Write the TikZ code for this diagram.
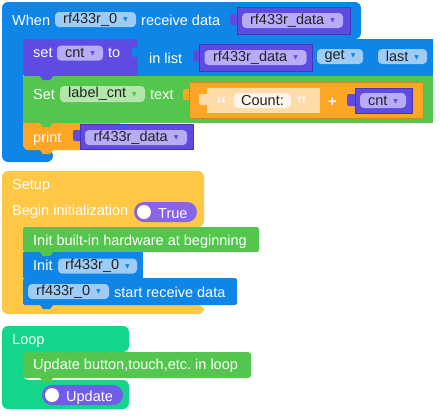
\documentclass[tikz,border=0pt]{standalone}
\usepackage{fontspec}
\setmainfont{Liberation Sans}
\newfontfamily\symfnt{DejaVu Sans}
\usetikzlibrary{positioning}
\frenchspacing

\definecolor{evblue}{RGB}{16,133,232}
\definecolor{fldblue}{RGB}{158,204,246}
\definecolor{varpurple}{RGB}{94,75,225}
\definecolor{varedge}{RGB}{70,52,185}
\definecolor{fldpurple}{RGB}{183,172,245}
\definecolor{stgreen}{RGB}{84,198,78}
\definecolor{fldgreen}{RGB}{178,230,170}
\definecolor{joinorange}{RGB}{253,165,37}
\definecolor{joinedge}{RGB}{215,135,25}
\definecolor{strorange}{RGB}{255,219,170}
\definecolor{cream}{RGB}{255,245,234}
\definecolor{setupyellow}{RGB}{254,199,70}
\definecolor{loopteal}{RGB}{20,214,139}
\definecolor{tglpurple}{RGB}{138,100,232}
\definecolor{tglviolet}{RGB}{112,92,232}
\definecolor{fldtext}{RGB}{35,35,35}

\newcommand{\blkfont}{\fontsize{14.5}{17}\selectfont}
\newcommand{\dd}[1]{\hspace{6pt}\raisebox{1.8pt}{\color{#1}\symfnt\fontsize{6}{6}\selectfont ▼}}

\begin{document}
\begin{tikzpicture}[x=1pt, y=-1pt,
  lbl/.style={anchor=base west, inner sep=0pt, text=white, font=\blkfont},
  fld/.style={fill=#1, rounded corners=4pt, minimum height=15pt, inner sep=0pt,
              text=fldtext, font=\blkfont},
  vblk/.style={fill=varpurple, draw=varedge, line width=0.6pt},
  tgl/.style={fill=#1, rounded corners=10pt, minimum height=20pt, inner sep=0pt},
  knob/.style={circle, fill=white, minimum size=14pt, inner sep=0pt},
]
  \useasboundingbox (0,0) rectangle (440,416);

  % ── Event block: receive data ──
  \fill[evblue, rounded corners=6pt] (2,2) -- (361,2) -- (361,39) -- (23,39) -- (23,150)
    -- (53,150) -- (53,162) -- (2,162) -- cycle;
  \node[lbl] (when) at (12,25) {When};
  \node[fld=fldblue, minimum width=81pt] (rx) at (95.5,19.5) {rf433r\_0\dd{evblue}};
  \node[lbl] (recv) at (141,25) {receive data};
  \fill[varpurple, rounded corners=2pt] (230,14) rectangle (239,25);
  \draw[vblk] (237,7) rectangle (350,34);
  \node[fld=fldpurple, minimum width=101pt] (rxd) at (292.5,20.5) {rf433r\_data\dd{varpurple}};

  % set cnt to ... in list get last
  \fill[varpurple, rounded corners=2pt] (23,39) rectangle (140,76);
  \node[lbl] (setv) at (33,57.5) {set};
  \node[fld=fldpurple, minimum width=46pt] (cnt) at (80,53) {cnt\dd{varpurple}};
  \node[lbl] (to) at (108,57.5) {to};
  \fill[evblue] (138,39) rectangle (433,76);
  \fill[evblue, rounded corners=2pt] (132,47) rectangle (140,57);
  \node[lbl] (inl) at (149,63) {in list};
  \fill[varpurple, rounded corners=2pt] (193,50) rectangle (201,62);
  \draw[vblk] (199,44) rectangle (312,71);
  \node[fld=fldpurple, minimum width=102pt] (lst) at (255.5,57.5) {rf433r\_data\dd{varpurple}};
  \node[fld=fldblue, minimum width=46pt] (get) at (340,56.5) {get\dd{evblue}};
  \node[fld=fldblue, minimum width=49pt] (last) at (402.5,56.5) {last\dd{evblue}};

  % print rf433r_data (drawn first, green covers its top)
  \fill[joinorange, rounded corners=6pt] (23,110) rectangle (120,150);
  \fill[varpurple, rounded corners=2pt] (73,130) rectangle (82,141);
  \draw[vblk] (80,124) rectangle (193,149);

  % Set label_cnt text ...
  \fill[stgreen] (23,76) rectangle (433,123);
  \node[lbl] (setl) at (33,99) {Set};
  \node[fld=fldgreen, minimum width=85pt, minimum height=16pt] (lbc) at (102.5,94) {label\_cnt\dd{stgreen}};
  \node[lbl] (txt) at (150,99) {text};
  \fill[joinorange, rounded corners=2pt] (183,89) rectangle (191,100);
  \draw[fill=joinorange, draw=joinedge, line width=0.6pt] (189,82) rectangle (423,118);
  \fill[strorange, rounded corners=2pt] (199,94) rectangle (209,105);
  \fill[strorange] (207,88) rectangle (320,113);
  \node[lbl, text=cream, font=\fontsize{21}{21}\selectfont\bfseries] (qo) at (216,111.5) {“};
  \node[fld=cream, minimum width=57pt] (cnttxt) at (262.5,100.5) {Count:};
  \node[lbl, text=cream, font=\fontsize{21}{21}\selectfont\bfseries] (qc) at (296,111.5) {”};
  \node[lbl, font=\blkfont\bfseries] (plus) at (328,106) {+};
  \fill[varpurple, rounded corners=2pt] (347,94) rectangle (357,106);
  \draw[vblk] (355,88) rectangle (412,113);
  \node[fld=fldpurple, minimum width=46pt] (cntv) at (383,100.5) {cnt\dd{varpurple}};

  \node[lbl] (prt) at (33,142) {print};
  \node[fld=fldpurple, minimum width=102pt] (prd) at (136,137.5) {rf433r\_data\dd{varpurple}};

  % ── Setup block ──
  \fill[setupyellow, rounded corners=6pt] (2,171) -- (204,171) -- (204,227) -- (23,227)
    -- (23,305) -- (204,305) -- (204,314) -- (2,314) -- cycle;
  \node[lbl] (setup) at (12,189) {Setup};
  \node[lbl] (begin) at (12,215) {Begin initialization};
  \node[tgl=tglpurple, minimum width=63pt] (tgl1) at (165.5,212) {};
  \node[knob] (knob1) at (144,212) {};
  \node[lbl] (true) at (158,218) {True};

  \fill[stgreen, rounded corners=2pt] (23,227) rectangle (259,252);
  \node[lbl] (hw) at (33,245) {Init built-in hardware at beginning};
  \fill[evblue] (23,252) rectangle (143,278);
  \node[lbl] (init) at (33,270.5) {Init};
  \node[fld=fldblue, minimum width=79pt] (ini) at (97.5,266) {rf433r\_0\dd{evblue}};
  \fill[evblue, rounded corners=2pt] (23,278) rectangle (237,305);
  \node[fld=fldblue, minimum width=81pt] (str) at (68.5,291.5) {rf433r\_0\dd{evblue}};
  \node[lbl] (start) at (114,297) {start receive data};

  % ── Loop block ──
  \fill[loopteal, rounded corners=6pt] (2,326) -- (129,326) -- (129,352) -- (23,352)
    -- (23,380) -- (129,380) -- (129,409) -- (2,409) -- cycle;
  \node[lbl] (loop) at (12,344) {Loop};
  \fill[stgreen, rounded corners=3pt] (23,352) rectangle (251,378);
  \node[lbl] (upd) at (33,369.5) {Update button,touch,etc. in loop};
  \node[tgl=tglviolet, minimum width=81pt] (tgl2) at (82.5,395) {};
  \node[knob] (knob2) at (52,395) {};
  \node[lbl] (update) at (66,401) {Update};

  % statement notches
  \foreach \x/\y/\c in {23/76/varpurple, 23/123/stgreen, 23/150/joinorange,
                        23/252/stgreen, 23/278/evblue, 23/305/evblue, 23/378/stgreen}
    { \fill[\c] (\x+17,\y-1) -- (\x+17,\y) -- (\x+20,\y+4) -- (\x+27,\y+4) -- (\x+30,\y) -- (\x+30,\y-1) -- cycle; }
\end{tikzpicture}
\end{document}
